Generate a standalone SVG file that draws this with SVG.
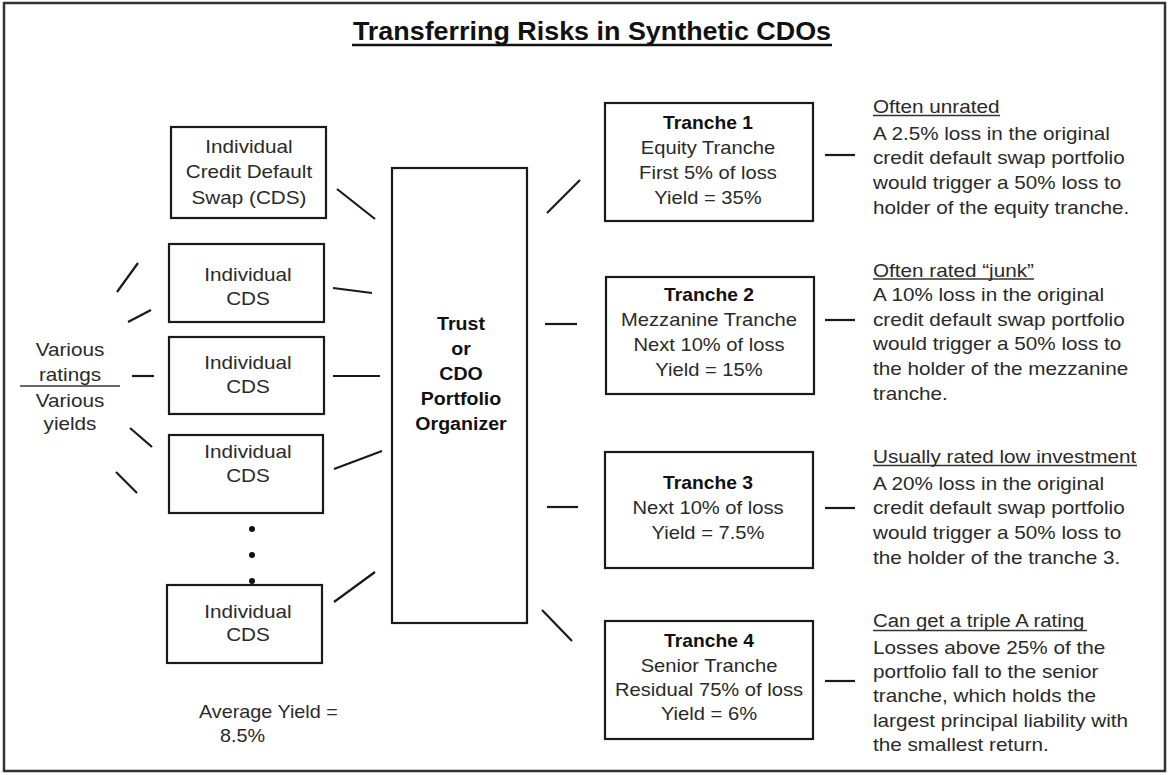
<svg xmlns="http://www.w3.org/2000/svg" width="1168" height="775" viewBox="0 0 1168 775">
<style>
  text { font-family: "Liberation Sans", Arial, sans-serif; font-size: 18px; fill: #2a2a2a; }
  .b { font-weight: bold; fill: #111; font-size: 17.5px; }
  .title { font-weight: bold; fill: #111; font-size: 26px; }
  .m { text-anchor: middle; }
  .box { fill: #fff; stroke: #1a1a1a; stroke-width: 2.2; }
  .ln { stroke: #1a1a1a; stroke-width: 2.2; fill: none; }
  .ul { stroke: #333; stroke-width: 1.4; }
</style>
<rect x="0" y="0" width="1168" height="775" fill="#fff"/>
<rect x="4" y="3" width="1161" height="768" fill="none" stroke="#333" stroke-width="2.5"/>

<g id="title">
  <text class="title m" transform="translate(592 40) scale(1.035 1)">Transferring Risks in Synthetic CDOs</text>
  <line x1="352" y1="45" x2="832" y2="45" stroke="#111" stroke-width="2.5"/>
</g>

<g id="various">
  <text class="m" transform="translate(70 355.5) scale(1.15 1)">Various</text>
  <text class="m" transform="translate(70 381) scale(1.15 1)">ratings</text>
  <line x1="20" y1="386" x2="120" y2="386" stroke="#333" stroke-width="1.6"/>
  <text class="m" transform="translate(70 406.5) scale(1.15 1)">Various</text>
  <text class="m" transform="translate(70 429.5) scale(1.15 1)">yields</text>
</g>

<g id="cds1">
  <rect class="box" x="171" y="127" width="155" height="91"/>
  <text class="m" transform="translate(249 152.5) scale(1.15 1)">Individual</text>
  <text class="m" transform="translate(249 178) scale(1.15 1)">Credit Default</text>
  <text class="m" transform="translate(249 203.5) scale(1.15 1)">Swap (CDS)</text>
</g>
<g id="cds2">
  <rect class="box" x="169" y="244" width="155" height="78"/>
  <text class="m" transform="translate(248 280.5) scale(1.15 1)">Individual</text>
  <text class="m" transform="translate(248 304.5) scale(1.15 1)">CDS</text>
</g>
<g id="cds3">
  <rect class="box" x="169" y="337" width="155" height="77"/>
  <text class="m" transform="translate(248 368.5) scale(1.15 1)">Individual</text>
  <text class="m" transform="translate(248 392.5) scale(1.15 1)">CDS</text>
</g>
<g id="cds4">
  <rect class="box" x="169" y="435" width="154" height="78"/>
  <text class="m" transform="translate(248 457.5) scale(1.15 1)">Individual</text>
  <text class="m" transform="translate(248 481.5) scale(1.15 1)">CDS</text>
</g>
<g id="dots" fill="#111">
  <circle cx="252" cy="529" r="3"/>
  <circle cx="252" cy="555" r="3"/>
  <circle cx="252" cy="581" r="3"/>
</g>
<g id="cds5">
  <rect class="box" x="167" y="585" width="155" height="78"/>
  <text class="m" transform="translate(248 617.5) scale(1.15 1)">Individual</text>
  <text class="m" transform="translate(248 640.5) scale(1.15 1)">CDS</text>
</g>

<g id="avg">
  <text transform="translate(199 717.5) scale(1.1 1)">Average Yield =</text>
  <text transform="translate(220 741.5) scale(1.1 1)">8.5%</text>
</g>

<g id="trust">
  <rect class="box" x="392" y="168" width="135" height="455"/>
  <text class="b m" transform="translate(461 329.5) scale(1.12 1)">Trust</text>
  <text class="b m" transform="translate(461 354.5) scale(1.12 1)">or</text>
  <text class="b m" transform="translate(461 379.5) scale(1.12 1)">CDO</text>
  <text class="b m" transform="translate(461 404.5) scale(1.12 1)">Portfolio</text>
  <text class="b m" transform="translate(461 429.5) scale(1.12 1)">Organizer</text>
</g>

<g id="tranche1">
  <rect class="box" x="605" y="103" width="208" height="118"/>
  <text class="b m" transform="translate(708 128.5) scale(1.1 1)">Tranche 1</text>
  <text class="m" transform="translate(708 153.5) scale(1.12 1)">Equity Tranche</text>
  <text class="m" transform="translate(708 178.5) scale(1.12 1)">First 5% of loss</text>
  <text class="m" transform="translate(708 203.5) scale(1.12 1)">Yield = 35%</text>
</g>
<g id="tranche2">
  <rect class="box" x="606" y="277" width="208" height="117"/>
  <text class="b m" transform="translate(709 300.5) scale(1.1 1)">Tranche 2</text>
  <text class="m" transform="translate(709 325.5) scale(1.12 1)">Mezzanine Tranche</text>
  <text class="m" transform="translate(709 350.5) scale(1.12 1)">Next 10% of loss</text>
  <text class="m" transform="translate(709 375.5) scale(1.12 1)">Yield = 15%</text>
</g>
<g id="tranche3">
  <rect class="box" x="605" y="452" width="208" height="116"/>
  <text class="b m" transform="translate(708 488.5) scale(1.1 1)">Tranche 3</text>
  <text class="m" transform="translate(708 513.5) scale(1.12 1)">Next 10% of loss</text>
  <text class="m" transform="translate(708 538.5) scale(1.12 1)">Yield = 7.5%</text>
</g>
<g id="tranche4">
  <rect class="box" x="605" y="621" width="208" height="118"/>
  <text class="b m" transform="translate(709 646.5) scale(1.1 1)">Tranche 4</text>
  <text class="m" transform="translate(709 671.5) scale(1.12 1)">Senior Tranche</text>
  <text class="m" transform="translate(709 695.5) scale(1.12 1)">Residual 75% of loss</text>
  <text class="m" transform="translate(709 719.5) scale(1.12 1)">Yield = 6%</text>
</g>

<g id="note1">
  <text transform="translate(873 113.3) scale(1.15 1)">Often unrated</text>
  <line class="ul" x1="873" y1="115.5" x2="1000" y2="115.5"/>
  <text transform="translate(873 139.5) scale(1.15 1)">A 2.5% loss in the original</text>
  <text transform="translate(873 164) scale(1.15 1)">credit default swap portfolio</text>
  <text transform="translate(873 188.5) scale(1.15 1)">would trigger a 50% loss to</text>
  <text transform="translate(873 213.5) scale(1.15 1)">holder of the equity tranche.</text>
</g>
<g id="note2">
  <text transform="translate(873 276.7) scale(1.15 1)">Often rated “junk”</text>
  <line class="ul" x1="873" y1="279" x2="1034" y2="279"/>
  <text transform="translate(873 300.5) scale(1.15 1)">A 10% loss in the original</text>
  <text transform="translate(873 325.5) scale(1.15 1)">credit default swap portfolio</text>
  <text transform="translate(873 349.5) scale(1.15 1)">would trigger a 50% loss to</text>
  <text transform="translate(873 374.5) scale(1.15 1)">the holder of the mezzanine</text>
  <text transform="translate(873 399.5) scale(1.15 1)">tranche.</text>
</g>
<g id="note3">
  <text transform="translate(873 462.7) scale(1.15 1)">Usually rated low investment</text>
  <line class="ul" x1="873" y1="465.5" x2="1137" y2="465.5"/>
  <text transform="translate(873 489.5) scale(1.15 1)">A 20% loss in the original</text>
  <text transform="translate(873 513.5) scale(1.15 1)">credit default swap portfolio</text>
  <text transform="translate(873 538.5) scale(1.15 1)">would trigger a 50% loss to</text>
  <text transform="translate(873 563.5) scale(1.15 1)">the holder of the tranche 3.</text>
</g>
<g id="note4">
  <text transform="translate(873 627.3) scale(1.13 1)">Can get a triple A rating</text>
  <line class="ul" x1="873" y1="630.5" x2="1087" y2="630.5"/>
  <text transform="translate(873 653.5) scale(1.15 1)">Losses above 25% of the</text>
  <text transform="translate(873 677.5) scale(1.15 1)">portfolio fall to the senior</text>
  <text transform="translate(873 702) scale(1.15 1)">tranche, which holds the</text>
  <text transform="translate(873 727) scale(1.15 1)">largest principal liability with</text>
  <text transform="translate(873 751) scale(1.15 1)">the smallest return.</text>
</g>

<g id="connectors" class="ln">
  <line class="ln" x1="117" y1="292" x2="138" y2="263"/>
  <line class="ln" x1="128" y1="322" x2="151" y2="310"/>
  <line class="ln" x1="132" y1="376" x2="154" y2="376"/>
  <line class="ln" x1="130" y1="428" x2="152" y2="447"/>
  <line class="ln" x1="116" y1="472" x2="137" y2="493"/>
  <line class="ln" x1="337" y1="189" x2="375" y2="219"/>
  <line class="ln" x1="333" y1="288" x2="372" y2="293"/>
  <line class="ln" x1="333" y1="376" x2="380" y2="376"/>
  <line class="ln" x1="334" y1="469" x2="382" y2="451"/>
  <line class="ln" x1="334" y1="602" x2="375" y2="572"/>
  <line class="ln" x1="547" y1="213" x2="580" y2="180"/>
  <line class="ln" x1="545" y1="324" x2="577" y2="324"/>
  <line class="ln" x1="547" y1="507" x2="578" y2="507"/>
  <line class="ln" x1="542" y1="610" x2="572" y2="641"/>
  <line class="ln" x1="825" y1="155" x2="855" y2="155"/>
  <line class="ln" x1="825" y1="320" x2="855" y2="320"/>
  <line class="ln" x1="825" y1="508" x2="855" y2="508"/>
  <line class="ln" x1="825" y1="681" x2="855" y2="681"/>
</g>
</svg>
